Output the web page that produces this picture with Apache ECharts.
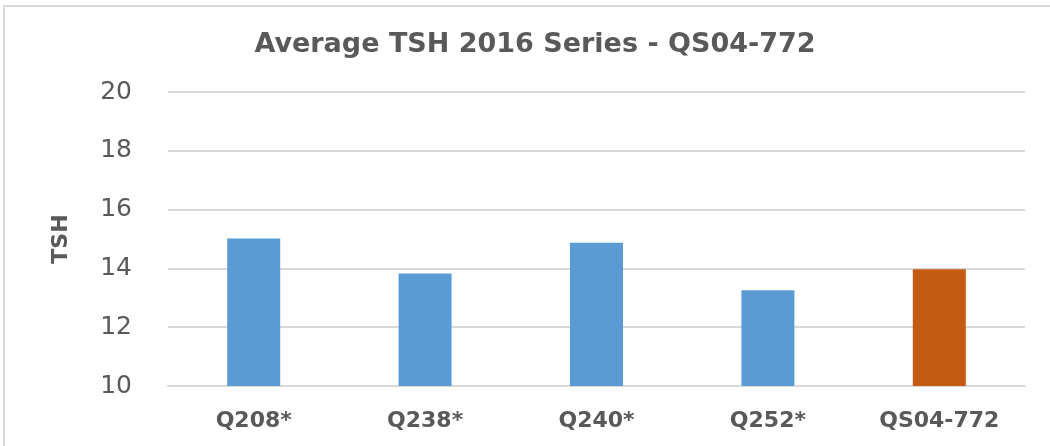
<!DOCTYPE html>
<html>
<head>
<meta charset="utf-8">
<script src="https://cdn.jsdelivr.net/npm/echarts@6/dist/echarts.min.js"></script>
<style>
  html, body { margin: 0; padding: 0; background: #fff; overflow: hidden; }
  #frame { position: absolute; left: 3px; top: 5px; width: 1100px; height: 500px; border: 2px solid #d9d9d9; box-sizing: border-box; }
  #chart { position: absolute; left: 0; top: 0; width: 1050px; height: 446px; }
</style>
</head>
<body>
<div id="frame"></div>
<div id="chart"></div>
<script>
// 数据
const categories = ['Q208*', 'Q238*', 'Q240*', 'Q252*', 'QS04-772'];
const tshValues = [15.02, 13.83, 14.87, 13.26, 13.97];
const barColors = ['#5b9bd5', '#5b9bd5', '#5b9bd5', '#5b9bd5', '#c55a11'];
const yTicks = { min: 10, max: 20, interval: 2 };

const FONT = 'DejaVu Sans';
const chart = echarts.init(document.getElementById('chart'));

chart.setOption({
  animation: false,
  title: {
    text: 'Average TSH 2016 Series - QS04-772',
    left: 530,
    textAlign: 'center',
    top: 26,
    textStyle: { fontFamily: FONT, fontSize: 27, fontWeight: 'bold', color: '#595959' }
  },
  grid: { left: 168, right: 25, top: 92, bottom: 60 },
  xAxis: {
    type: 'category',
    data: categories,
    axisLine: { lineStyle: { color: '#d9d9d9', width: 2 } },
    axisTick: { show: false },
    axisLabel: {
      margin: 24,
      fontFamily: FONT,
      fontSize: 22,
      fontWeight: 'bold',
      color: '#595959'
    }
  },
  yAxis: {
    type: 'value',
    min: yTicks.min,
    max: yTicks.max,
    interval: yTicks.interval,
    name: 'TSH',
    nameLocation: 'middle',
    nameGap: 96,
    nameRotate: 90,
    nameTextStyle: { fontFamily: FONT, fontSize: 22, fontWeight: 'bold', color: '#595959' },
    axisLine: { show: false },
    axisTick: { show: false },
    splitLine: { lineStyle: { color: '#d9d9d9', width: 2 } },
    axisLabel: { margin: 36, fontFamily: FONT, fontSize: 25, color: '#595959' }
  },
  series: [{
    type: 'bar',
    barWidth: 53,
    data: tshValues.map((v, i) => ({ value: v, itemStyle: { color: barColors[i] } }))
  }]
});
</script>
</body>
</html>
